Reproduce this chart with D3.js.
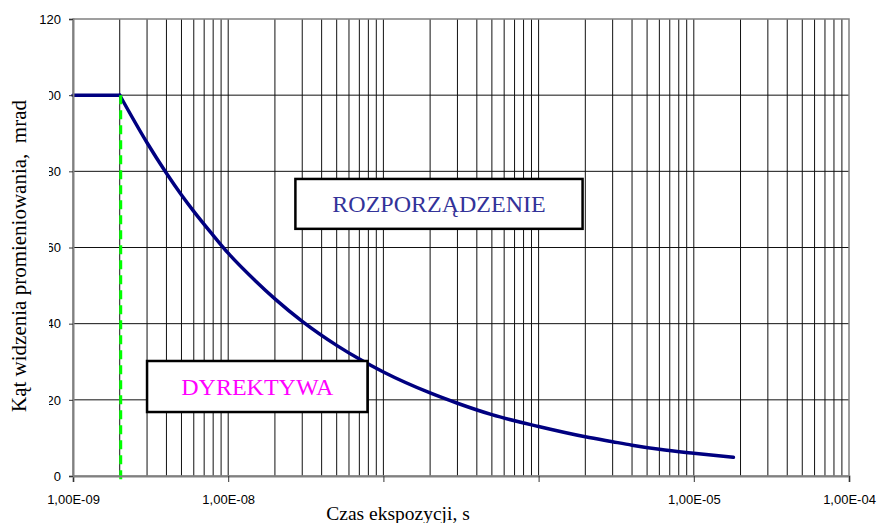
<!DOCTYPE html>
<html>
<head>
<meta charset="utf-8">
<script src="https://cdn.jsdelivr.net/npm/d3@7"></script>
<style>
html,body{margin:0;padding:0;background:#fff;}
svg{display:block;}
</style>
</head>
<body>
<svg id="chart" width="877" height="523"></svg>
<script>
// ---- data ----
const times = [1e-9, 2e-9, 3e-9, 4e-9, 5e-9, 6e-9, 8e-9, 1e-8, 1.5e-8, 2e-8, 3e-8, 5e-8, 7e-8, 1e-7, 2e-7, 3e-7, 5e-7, 1e-6, 2e-6, 3e-6, 4e-6, 6e-6, 1e-5, 1.8e-5];
const angles = [100, 100, 87.5, 79.5, 73.8, 69.5, 63.2, 58.5, 51.2, 46.5, 40.6, 34.3, 30.7, 27.3, 21.8, 19.1, 16.1, 13.0, 10.3, 9.0, 8.1, 7.0, 5.95, 4.9];
const directiveTime = [2e-9];
const directiveRange = [0, 100];
const xTickValues = [1e-9, 1e-8, 1e-7, 1e-6, 1e-5, 1e-4];
const xTickLabels = ["1,00E-09", "1,00E-08", "", "", "1,00E-05", "1,00E-04"];
const yTickValues = [0, 20, 40, 60, 80, 100, 120];
const boxLabels = ["ROZPORZĄDZENIE", "DYREKTYWA"];
const xTitle = "Czas ekspozycji, s";
const yTitle = "Kąt widzenia promieniowania,  mrad";

// ---- layout ----
const L = 73, R = 849, T = 19, B = 476;
const svg = d3.select("#chart");
const x = d3.scaleLog().domain([1e-9, 1e-4]).range([L, R]);
const y = d3.scaleLinear().domain([0, 120]).range([B, T]);

// gridlines
const minor = [];
for (let e = -9; e < -4; e++) for (let m = 1; m <= 9; m++) { const v = m * Math.pow(10, e); if (v > 1e-9) minor.push(v); }
svg.append("g").selectAll("line").data(minor).join("line")
  .attr("x1", d => x(d)).attr("x2", d => x(d)).attr("y1", T).attr("y2", B)
  .attr("stroke", "#111").attr("stroke-width", 1);
svg.append("g").selectAll("line").data(yTickValues.filter(v => v > 0 && v < 120)).join("line")
  .attr("x1", L).attr("x2", R).attr("y1", d => y(d)).attr("y2", d => y(d))
  .attr("stroke", "#111").attr("stroke-width", 1);
// plot border
svg.append("rect").attr("x", L).attr("y", T).attr("width", R - L).attr("height", B - T)
  .attr("fill", "none").attr("stroke", "#808080").attr("stroke-width", 1.5);

// curve: flat part straight, decaying part smooth
const pts = times.map((t, i) => [t, angles[i]]);
const lineLin = d3.line().x(d => x(d[0])).y(d => y(d[1]));
const lineSmooth = d3.line().x(d => x(d[0])).y(d => y(d[1])).curve(d3.curveMonotoneX);
svg.append("path").datum(pts.slice(0, 2)).attr("d", lineLin)
  .attr("fill", "none").attr("stroke", "#000080").attr("stroke-width", 3.5).attr("stroke-linecap", "round");
svg.append("path").datum(pts.slice(1)).attr("d", lineSmooth)
  .attr("fill", "none").attr("stroke", "#000080").attr("stroke-width", 3.5).attr("stroke-linecap", "round");

// directive line
svg.append("line")
  .attr("x1", x(directiveTime[0]) + 1).attr("x2", x(directiveTime[0]) + 1)
  .attr("y1", y(directiveRange[1])).attr("y2", B + 7)
  .attr("stroke", "#00ff00").attr("stroke-width", 3).attr("stroke-dasharray", "9,6");

// boxes
const boxes = [
  {label: boxLabels[0], t0: 2.71e-8, t1: 1.92e-6, v0: 78, v1: 64.9, color: "#333399"},
  {label: boxLabels[1], t0: 3.0e-9, t1: 7.9e-8, v0: 30.2, v1: 16.8, color: "#ff00ff"}
];
const bg = svg.append("g").selectAll("g").data(boxes).join("g");
bg.append("rect")
  .attr("x", d => x(d.t0)).attr("y", d => y(d.v0))
  .attr("width", d => x(d.t1) - x(d.t0)).attr("height", d => y(d.v1) - y(d.v0))
  .attr("fill", "#fff").attr("stroke", "#000").attr("stroke-width", 2.5);
bg.append("text")
  .attr("x", d => (x(d.t0) + x(d.t1)) / 2).attr("y", d => (y(d.v0) + y(d.v1)) / 2 + 8)
  .attr("text-anchor", "middle").attr("fill", d => d.color)
  .attr("font-family", "'Liberation Serif','Times New Roman',serif").attr("font-size", 24)
  .text(d => d.label);

// axes
const xAxis = d3.axisBottom(x).tickValues(xTickValues).tickSize(6).tickPadding(13)
  .tickFormat((d, i) => xTickLabels[i]);
const gx = svg.append("g").attr("transform", `translate(0,${B})`).call(xAxis);
gx.select(".domain").attr("stroke", "#808080").attr("stroke-width", 2);
gx.selectAll(".tick line").attr("stroke", "#333");
gx.selectAll("text").attr("font-family", "'Liberation Sans',Arial,sans-serif").attr("font-size", 13).attr("fill", "#000");

const yAxis = d3.axisLeft(y).tickValues(yTickValues).tickSize(4).tickPadding(8);
const gy = svg.append("g").attr("transform", `translate(${L},0)`).call(yAxis);
gy.select(".domain").attr("stroke", "#808080").attr("stroke-width", 2);
gy.selectAll(".tick line").attr("stroke", "#333");
gy.selectAll("text").attr("font-family", "'Liberation Sans',Arial,sans-serif").attr("font-size", 13).attr("fill", "#000");

// y title with white background covering tick labels
svg.append("rect").attr("x", 0).attr("y", 40).attr("width", 49).attr("height", 415).attr("fill", "#fff");
svg.append("text")
  .attr("transform", "translate(26,256) rotate(-90)")
  .attr("text-anchor", "middle").style("white-space", "pre")
  .attr("font-family", "'Liberation Serif','Times New Roman',serif").attr("font-size", 21)
  .text(yTitle);

// x title
svg.append("text")
  .attr("x", 398).attr("y", 520).attr("text-anchor", "middle")
  .attr("font-family", "'Liberation Serif','Times New Roman',serif").attr("font-size", 19.5)
  .text(xTitle);
</script>
</body>
</html>
